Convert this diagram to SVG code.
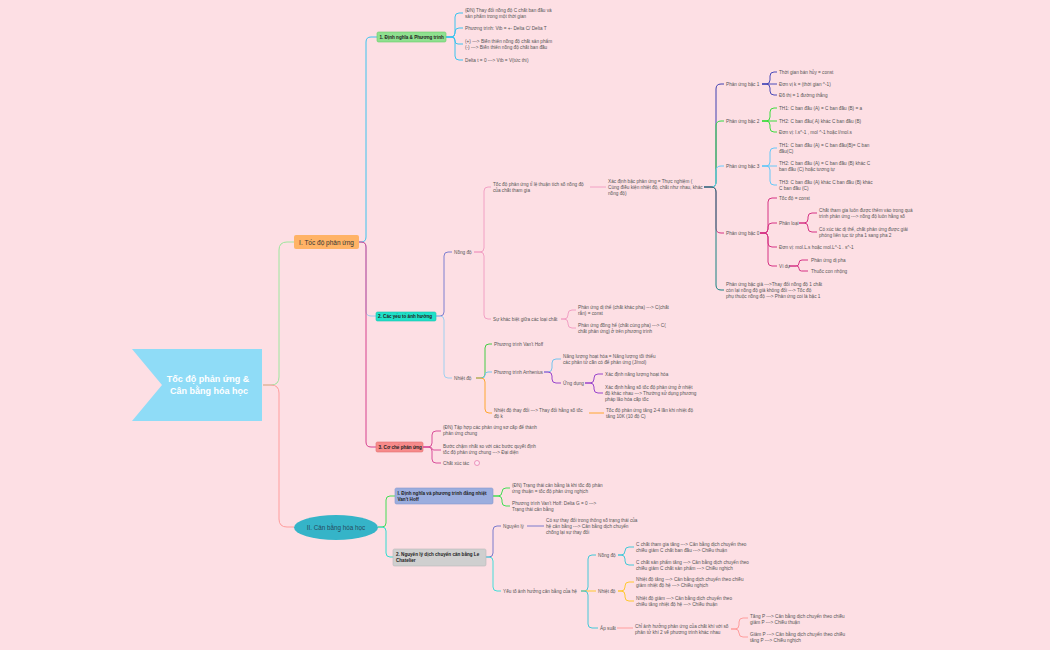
<svg xmlns="http://www.w3.org/2000/svg" width="1050" height="650" viewBox="0 0 1050 650">
<style>
.t{font-family:"Liberation Sans",Arial,sans-serif;font-size:4.7px;fill:#555}
.b{font-family:"Liberation Sans",Arial,sans-serif;font-size:4.6px;font-weight:bold;fill:#222}
.c{fill:none;stroke-width:1}
</style>
<rect width="1050" height="650" fill="#fddfe4"/>
<g id="connectors">
<path class="c" stroke="#9ee69e" d="M263 385 H271 Q279 385 279 377 V250 Q279 242 287 242 H294"/>
<path class="c" stroke="#ff9d9d" d="M263 385 H271 Q279 385 279 393 V519 Q279 527 287 527 H294"/>
<path class="c" stroke="#3cc3ee" d="M359 242 H361 Q366 242 366 237 V42 Q366 37 371 37 H377"/>
<path class="c" stroke="#9cc9ee" d="M359 242 H361 Q366 242 366 247 V311 Q366 316 371 316 H376"/>
<path class="c" stroke="#d6408e" d="M359 242 H361 Q366 242 366 247 V442 Q366 447 371 447 H376"/>
<g stroke="#3cc3ee">
<path class="c" d="M446 37 H451 Q455 37 455 33 V17 Q455 13 459 13 H463"/>
<path class="c" d="M446 37 H451 Q455 37 455 33 V32 Q455 28 459 28 H463"/>
<path class="c" d="M446 37 H452 Q455 37 455 40 V41 Q455 44 458 44 H463"/>
<path class="c" d="M446 37 H451 Q455 37 455 41 V56 Q455 60 459 60 H463"/>
</g>
<path class="c" stroke="#7f7fd0" d="M436 316 H440 Q444 316 444 312 V256 Q444 252 448 252 H452"/>
<path class="c" stroke="#9fd0f0" d="M436 316 H440 Q444 316 444 320 V374 Q444 378 448 378 H452"/>
<g stroke="#f2a0c4">
<path class="c" d="M474 252 H480 Q484 252 484 248 V191 Q484 187 488 187 H491"/>
<path class="c" d="M474 252 H480 Q484 252 484 256 V315 Q484 319 488 319 H491"/>
<path class="c" d="M590 187 H606"/>
<path class="c" d="M561 319 H564 Q568 319 568 315 V314 Q568 310 572 310 H576"/>
<path class="c" d="M561 319 H564 Q568 319 568 323 V324 Q568 328 572 328 H576"/>
</g>
<path class="c" stroke="#4040b0" d="M704 187 H711 Q716 187 716 182 V89 Q716 84 721 84 H724"/>
<path class="c" stroke="#33dd44" d="M704 187 H711 Q716 187 716 182 V126 Q716 121 721 121 H724"/>
<path class="c" stroke="#66ccff" d="M704 187 H711 Q716 187 716 182 V171 Q716 166 721 166 H724"/>
<path class="c" stroke="#d63384" d="M704 187 H711 Q716 187 716 192 V228 Q716 233 721 233 H724"/>
<path class="c" stroke="#168080" d="M704 187 H711 Q716 187 716 192 V285 Q716 290 721 290 H724"/>
<g stroke="#4a4ab8">
<path class="c" d="M762 84 H766 Q770 84 770 80 V76 Q770 72 774 72 H777"/>
<path class="c" d="M762 84 H777"/>
<path class="c" d="M762 84 H766 Q770 84 770 88 V91 Q770 95 774 95 H777"/>
</g>
<g stroke="#3ddc3d">
<path class="c" d="M762 121 H766 Q770 121 770 117 V112 Q770 108 774 108 H777"/>
<path class="c" d="M762 121 H777"/>
<path class="c" d="M762 121 H766 Q770 121 770 125 V128 Q770 132 774 132 H777"/>
</g>
<g stroke="#66c8f8">
<path class="c" d="M762 166 H766 Q770 166 770 162 V152 Q770 148 774 148 H777"/>
<path class="c" d="M762 166 H777"/>
<path class="c" d="M762 166 H766 Q770 166 770 170 V181 Q770 185 774 185 H777"/>
</g>
<g stroke="#d63384">
<path class="c" d="M760 233 H764 Q768 233 768 229 V202 Q768 198 772 198 H777"/>
<path class="c" d="M760 233 H764 Q768 233 768 229 V227 Q768 223 772 223 H777"/>
<path class="c" d="M760 233 H764 Q768 233 768 237 V243 Q768 247 772 247 H777"/>
<path class="c" d="M760 233 H764 Q768 233 768 237 V262 Q768 266 772 266 H777"/>
<path class="c" d="M799 223 H804 Q808 223 808 219 V217 Q808 213 812 213 H817"/>
<path class="c" d="M799 223 H804 Q808 223 808 227 V228 Q808 232 812 232 H817"/>
<path class="c" d="M789 266 H796 Q799 266 799 263 Q799 260 802 260 H808"/>
<path class="c" d="M789 266 H796.5 Q799 266 799 268.5 Q799 271 801.5 271 H808"/>
</g>
<path class="c" stroke="#44cc44" d="M476 378 H481 Q485 378 485 374 V348 Q485 344 489 344 H492"/>
<path class="c" stroke="#77c4ee" d="M476 378 H482 Q485 378 485 375 Q485 372 488 372 H492"/>
<path class="c" stroke="#ffa630" d="M476 378 H481 Q485 378 485 382 V409 Q485 413 489 413 H492"/>
<path class="c" stroke="#77c4ee" d="M544 372 H548 Q552 372 552 368 V363 Q552 359 556 359 H561"/>
<path class="c" stroke="#9944cc" d="M544 372 H548 Q552 372 552 376 V379 Q552 383 556 383 H561"/>
<path class="c" stroke="#9944cc" d="M585 383 H590 Q594 383 594 379 V378 Q594 374 598 374 H603"/>
<path class="c" stroke="#9944cc" d="M585 383 H590 Q594 383 594 387 V389 Q594 393 598 393 H603"/>
<path class="c" stroke="#ffa630" d="M589 413 H604"/>
<g stroke="#d94f9a">
<path class="c" d="M423 447 H428 Q432 447 432 443 V435 Q432 431 436 431 H441"/>
<path class="c" d="M423 447 H429 Q432 447 432 448.5 Q432 450 434 450 H441"/>
<path class="c" d="M423 447 H428 Q432 447 432 451 V459 Q432 463 436 463 H441"/>
</g>
<path class="c" stroke="#44dd55" d="M378 527 H382 Q386 527 386 523 V500 Q386 496 390 496 H395"/>
<path class="c" stroke="#33dcd0" d="M378 527 H382 Q386 527 386 531 V553 Q386 557 390 557 H393"/>
<path class="c" stroke="#44dd55" d="M493 496 H498 Q502 496 502 492 Q502 488 506 488 H510"/>
<path class="c" stroke="#44dd55" d="M493 496 H498 Q502 496 502 500 V502 Q502 506 506 506 H510"/>
<path class="c" stroke="#7a7acc" d="M486 557 H489 Q493 557 493 553 V530 Q493 526 497 526 H501"/>
<path class="c" stroke="#44ddd8" d="M486 557 H489 Q493 557 493 561 V587 Q493 591 497 591 H501"/>
<path class="c" stroke="#7a7acc" d="M527 526 H544"/>
<path class="c" stroke="#44c8d8" d="M581 591 H584 Q588 591 588 587 V559 Q588 555 592 555 H596"/>
<path class="c" stroke="#ffc830" d="M581 591 H596"/>
<path class="c" stroke="#44c8d8" d="M581 591 H584 Q588 591 588 595 V624 Q588 628 592 628 H598"/>
<path class="c" stroke="#44c8d8" d="M618 555 H621 Q625 555 625 551 Q625 547 629 547 H634"/>
<path class="c" stroke="#44c8d8" d="M618 555 H621 Q625 555 625 559 V561 Q625 565 629 565 H634"/>
<path class="c" stroke="#ffc830" d="M618 591 H621 Q625 591 625 587 V586 Q625 582 629 582 H634"/>
<path class="c" stroke="#ffc830" d="M618 591 H621 Q625 591 625 595 V597 Q625 601 629 601 H634"/>
<path class="c" stroke="#ff9d9d" d="M617 628 H633"/>
<path class="c" stroke="#ff9d9d" d="M731 629 H735 Q739 629 739 625 V622 Q739 618 743 618 H748"/>
<path class="c" stroke="#ff9d9d" d="M731 629 H735 Q739 629 739 633 Q739 637 743 637 H748"/>
</g>
<g id="central">
<polygon points="132,349 262,349 262,421 132,421 162,385" fill="#8fdcf7"/>
<text x="208" y="382" text-anchor="middle" style="font-family:'Liberation Sans',Arial,sans-serif;font-size:9px;font-weight:bold;fill:#fff">Tốc độ phản ứng &amp;</text>
<text x="209" y="394" text-anchor="middle" style="font-family:'Liberation Sans',Arial,sans-serif;font-size:9px;font-weight:bold;fill:#fff">Cân bằng hóa học</text>
</g>
<g id="n-I">
<rect x="294" y="235" width="65" height="14" rx="2" fill="#ffb366"/>
<text x="326.5" y="244.5" text-anchor="middle" style="font-family:'Liberation Sans',Arial,sans-serif;font-size:6.5px;fill:#333">I. Tốc độ phản ứng</text>
</g>
<g id="n-II">
<ellipse cx="336" cy="527.5" rx="42" ry="12.5" fill="#35b4c8"/>
<text x="336" y="529.5" text-anchor="middle" style="font-family:'Liberation Sans',Arial,sans-serif;font-size:6.3px;fill:#264a5e">II. Cân bằng hóa học</text>
</g>
<g id="n-1">
<rect x="377" y="32" width="69" height="10" rx="1.5" fill="#8fe08f" stroke="#66cc66" stroke-width="0.6"/>
<text class="b" x="379.5" y="38.5">1. Định nghĩa &amp; Phương trình</text>
</g>
<g id="n-1a"><text class="t" x="465" y="11.5">(ĐN) Thay đổi nồng độ C chất ban đầu và<tspan x="465" dy="6">sản phẩm trong một thời gian</tspan></text></g>
<g id="n-1b"><text class="t" x="465" y="29.5">Phương trình: Vtb = +- Delta C/ Delta T</text></g>
<g id="n-1c"><text class="t" x="465" y="42.5">(+) ---&gt; Biến thiên nồng độ chất sản phẩm<tspan x="465" dy="6">(-) ---&gt; Biến thiên nồng độ chất ban đầu</tspan></text></g>
<g id="n-1d"><text class="t" x="465" y="61.5">Delta t = 0 ---&gt; Vtb = V(tức thì)</text></g>
<g id="n-2">
<rect x="376" y="312" width="60" height="9" rx="1.5" fill="#1fe0c8" stroke="#17c4b0" stroke-width="0.6"/>
<text class="b" x="378" y="318.3">2. Các yếu tố ảnh hưởng</text>
</g>
<g id="n-2a"><text class="t" x="454" y="253.5">Nồng độ</text></g>
<g id="n-2a1"><text class="t" x="493" y="185.5">Tốc độ phản ứng tỉ lệ thuận tích số nồng độ<tspan x="493" dy="6">của chất tham gia</tspan></text></g>
<g id="n-2a1a"><text class="t" x="608" y="182.5">Xác định bậc phản ứng = Thực nghiệm (<tspan x="608" dy="6">Cùng điều kiện nhiệt độ, chất như nhau, khác</tspan><tspan x="608" dy="6">nồng độ)</tspan></text></g>
<g id="n-b1"><text class="t" x="726" y="85.5">Phản ứng bậc 1</text></g>
<g id="n-b1a"><text class="t" x="779" y="73.5">Thời gian bán hủy = const</text></g>
<g id="n-b1b"><text class="t" x="779" y="85.5">Đơn vị k = (thời gian ^-1)</text></g>
<g id="n-b1c"><text class="t" x="779" y="96.5">Đồ thị = 1 đường thẳng</text></g>
<g id="n-b2"><text class="t" x="726" y="122.5">Phản ứng bậc 2</text></g>
<g id="n-b2a"><text class="t" x="779" y="109.5">TH1: C ban đầu (A) = C ban đầu (B) = a</text></g>
<g id="n-b2b"><text class="t" x="779" y="122.5">TH2: C ban đầu( A) khác C ban đầu (B)</text></g>
<g id="n-b2c"><text class="t" x="779" y="133.5">Đơn vị: l.s^-1 , mol ^-1 hoặc l/mol.s</text></g>
<g id="n-b3"><text class="t" x="726" y="167.5">Phản ứng bậc 3</text></g>
<g id="n-b3a"><text class="t" x="779" y="146.5">TH1: C ban đầu (A) = C ban đầu(B)= C ban<tspan x="779" dy="6">đầu(C)</tspan></text></g>
<g id="n-b3b"><text class="t" x="779" y="164.5">TH2: C ban đầu (A) = C ban đầu (B) khác C<tspan x="779" dy="6">ban đầu (C) hoặc tương tự</tspan></text></g>
<g id="n-b3c"><text class="t" x="779" y="183.5">TH3: C ban đầu (A) khác C ban đầu (B) khác<tspan x="779" dy="6">C ban đầu (C)</tspan></text></g>
<g id="n-b0"><text class="t" x="726" y="234.5">Phản ứng bậc 0</text></g>
<g id="n-b0a"><text class="t" x="779" y="199.5">Tốc độ = const</text></g>
<g id="n-b0b"><text class="t" x="779" y="224.5">Phân loại</text></g>
<g id="n-b0b1"><text class="t" x="819" y="211.5">Chất tham gia luôn được thêm vào trong quá<tspan x="819" dy="6">trình phản ứng ---&gt; nồng độ luôn hằng số</tspan></text></g>
<g id="n-b0b2"><text class="t" x="819" y="230.5">Có xúc tác dị thể, chất phản ứng được giải<tspan x="819" dy="6">phóng liên tục từ pha 1 sang pha 2</tspan></text></g>
<g id="n-b0c"><text class="t" x="779" y="248.5">Đơn vị: mol.L.s hoặc mol.L^-1 . s^-1</text></g>
<g id="n-b0d"><text class="t" x="779" y="267.5">Ví dụ</text></g>
<g id="n-b0d1"><text class="t" x="811" y="261.5">Phản ứng dị pha</text></g>
<g id="n-b0d2"><text class="t" x="811" y="272.5">Thuốc con nhộng</text></g>
<g id="n-bgia"><text class="t" x="726" y="285.5">Phản ứng bậc giả ---&gt;Thay đổi nồng độ 1 chất<tspan x="726" dy="6">còn lại nồng độ giả không đổi ---&gt; Tốc độ</tspan><tspan x="726" dy="6">phụ thuộc nồng độ ---&gt; Phản ứng coi là bậc 1</tspan></text></g>
<g id="n-2a2"><text class="t" x="493" y="320.5">Sự khác biệt giữa các loại chất</text></g>
<g id="n-2a2a"><text class="t" x="578" y="308.5">Phản ứng dị thể (chất khác pha) ---&gt; C(chất<tspan x="578" dy="6">rắn) = const</tspan></text></g>
<g id="n-2a2b"><text class="t" x="578" y="326.5">Phản ứng đồng hể (chất cùng pha) ---&gt; C(<tspan x="578" dy="6">chất phản ứng) ở trên phương trình</tspan></text></g>
<g id="n-2b"><text class="t" x="454" y="379.5">Nhiệt độ</text></g>
<g id="n-2b1"><text class="t" x="494" y="345.5">Phương trình Van't Hoff</text></g>
<g id="n-2b2"><text class="t" x="494" y="373.5">Phương trình Arrhenius</text></g>
<g id="n-2b2a"><text class="t" x="563" y="357.5">Năng lượng hoạt hóa = Năng lượng tối thiểu<tspan x="563" dy="6">các phân tử cần có để phản ứng (J/mol)</tspan></text></g>
<g id="n-2b2b"><text class="t" x="563" y="384.5">Ứng dụng</text></g>
<g id="n-2b2b1"><text class="t" x="605" y="375.5">Xác định năng lượng hoạt hóa</text></g>
<g id="n-2b2b2"><text class="t" x="605" y="388.5">Xác định hằng số tốc độ phản ứng ở nhiệt<tspan x="605" dy="6">độ khác nhau ---&gt; Thường sử dụng phương</tspan><tspan x="605" dy="6">pháp lão hóa cấp tốc</tspan></text></g>
<g id="n-2b3"><text class="t" x="494" y="411.5">Nhiệt độ thay đổi ---&gt; Thay đổi hằng số tốc<tspan x="494" dy="6">độ k</tspan></text></g>
<g id="n-2b3a"><text class="t" x="606" y="411.5">Tốc độ phản ứng tăng 2-4 lần khi nhiệt độ<tspan x="606" dy="6">tăng 10K (10 độ C)</tspan></text></g>
<g id="n-3">
<rect x="376" y="442" width="47" height="10" rx="1.5" fill="#f78a8a" stroke="#e07070" stroke-width="0.6"/>
<text class="b" x="378.5" y="448.7">3. Cơ chế phản ứng</text>
</g>
<g id="n-3a"><text class="t" x="443" y="428.5">(ĐN) Tập hợp các phản ứng sơ cấp để thành<tspan x="443" dy="6">phản ứng chung</tspan></text></g>
<g id="n-3b"><text class="t" x="443" y="447.5">Bước chậm nhất so với các bước quyết định<tspan x="443" dy="6">tốc độ phản ứng chung ---&gt; Đại diện</tspan></text></g>
<g id="n-3c"><text class="t" x="443" y="464.5">Chất xúc tác</text><circle cx="477" cy="463" r="2.5" fill="#fde8f0" stroke="#e0609e" stroke-width="0.6"/></g>
<g id="n-II1">
<rect x="395" y="488" width="98" height="16" rx="1.5" fill="#9badde" stroke="#8898cc" stroke-width="0.6"/>
<text class="b" x="397.5" y="495">I. Định nghĩa và phương trình đẳng nhiệt<tspan x="397.5" dy="6">Van't Hoff</tspan></text>
</g>
<g id="n-II1a"><text class="t" x="512" y="486.5">(ĐN) Trạng thái cân bằng là khi tốc độ phản<tspan x="512" dy="6">ứng thuận = tốc độ phản ứng nghịch</tspan></text></g>
<g id="n-II1b"><text class="t" x="512" y="504.5">Phương trình Van't Hoff: Delta G = 0 ---&gt;<tspan x="512" dy="6">Trạng thái cân bằng</tspan></text></g>
<g id="n-II2">
<rect x="393" y="549" width="93" height="17" rx="1.5" fill="#cfcfcf" stroke="#bbbbbb" stroke-width="0.6"/>
<text class="b" x="396" y="556">2. Nguyên lý dịch chuyển cân bằng Le<tspan x="396" dy="6">Chatelier</tspan></text>
</g>
<g id="n-II2a"><text class="t" x="503" y="527.5">Nguyên lý</text></g>
<g id="n-II2a1"><text class="t" x="546" y="521.5">Có sự thay đổi trong thông số trạng thái của<tspan x="546" dy="6">hệ cân bằng ---&gt; Cân bằng dịch chuyển</tspan><tspan x="546" dy="6">chống lại sự thay đổi</tspan></text></g>
<g id="n-II2b"><text class="t" x="503" y="592.5">Yếu tố ảnh hưởng cân bằng của hệ</text></g>
<g id="n-II2b1"><text class="t" x="598" y="556.5">Nồng độ</text></g>
<g id="n-II2b1a"><text class="t" x="636" y="545.5">C chất tham gia tăng ---&gt; Cân bằng dịch chuyển theo<tspan x="636" dy="6">chiều giảm C chất ban đầu ---&gt; Chiều thuận</tspan></text></g>
<g id="n-II2b1b"><text class="t" x="636" y="563.5">C chất sản phẩm tăng ---&gt; Cân bằng dịch chuyển theo<tspan x="636" dy="6">chiều giảm C chất sản phẩm ---&gt; Chiều nghịch</tspan></text></g>
<g id="n-II2b2"><text class="t" x="598" y="592.5">Nhiệt độ</text></g>
<g id="n-II2b2a"><text class="t" x="636" y="580.5">Nhiệt độ tăng ---&gt; Cân bằng dịch chuyển theo chiều<tspan x="636" dy="6">giảm nhiệt độ hệ ---&gt; Chiều nghịch</tspan></text></g>
<g id="n-II2b2b"><text class="t" x="636" y="599.5">Nhiệt độ giảm ---&gt; Cân bằng dịch chuyển theo<tspan x="636" dy="6">chiều tăng nhiệt độ hệ ---&gt; Chiều thuận</tspan></text></g>
<g id="n-II2b3"><text class="t" x="600" y="629.5">Áp suất</text></g>
<g id="n-II2b3a"><text class="t" x="635" y="627.5">Chỉ ảnh hưởng phản ứng của chất khí với số<tspan x="635" dy="6">phân tử khí 2 vế phương trình khác nhau</tspan></text></g>
<g id="n-II2b3a1"><text class="t" x="750" y="617.5">Tăng P ---&gt; Cân bằng dịch chuyển theo chiều<tspan x="750" dy="6">giảm P ---&gt; Chiều thuận</tspan></text></g>
<g id="n-II2b3a2"><text class="t" x="750" y="635.5">Giảm P ---&gt; Cân bằng dịch chuyển theo chiều<tspan x="750" dy="6">tăng P ---&gt; Chiều nghịch</tspan></text></g>
</svg>
